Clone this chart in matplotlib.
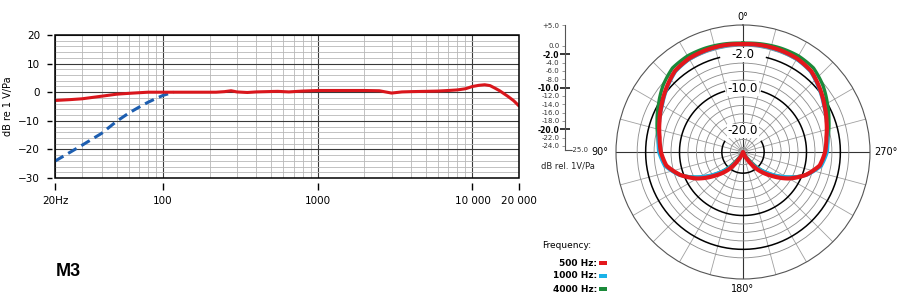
import numpy as np
import matplotlib
matplotlib.use('Agg')
import matplotlib.pyplot as plt
from matplotlib.patches import Rectangle
from matplotlib.ticker import LogLocator, MultipleLocator, NullFormatter

plt.rcParams['font.family'] = ['DejaVu Sans']

W, H = 910, 304

# frequency response (dB re 1 V/Pa)
FREQ_RESP = [20, 25, 30, 40, 50, 60, 80, 100, 130, 170, 220, 250, 275, 300, 350,
             400, 550, 650, 800, 1000, 1500, 2000, 2500, 3000, 3500, 4000, 5000,
             6000, 7000, 8000, 9000, 10000, 11000, 12000, 13000, 14000, 15000,
             17000, 18500, 20000]
DB_RESP = [-2.9, -2.6, -2.3, -1.4, -0.7, -0.4, 0.0, 0.0, 0.0, 0.0, 0.0, 0.2, 0.5,
           0.1, -0.1, 0.1, 0.3, 0.1, 0.4, 0.6, 0.6, 0.6, 0.5, -0.3, 0.1, 0.2, 0.3,
           0.4, 0.6, 0.8, 1.2, 2.0, 2.4, 2.6, 2.3, 1.4, 0.5, -1.5, -3.0, -4.8]

# low cut position (dashed)
FREQ_LOWCUT = [20, 30, 40, 50, 60, 70, 80, 90, 100, 117]
DB_LOWCUT = [-24.1, -18.5, -14.4, -10.2, -7.3, -5.2, -3.5, -2.2, -1.1, 0.0]

XTICKS = [20, 100, 1000, 10000, 20000]
XTICK_LABELS = ['20Hz', '100', '1000', '10 000', '20 000']
YTICKS = [-30, -20, -10, 0, 10, 20]

# polar patterns, dB, every 10 degrees
ANGLES = list(range(0, 361, 10))
POLAR_500 = [0.5, 0.6, 0.6, 0.5, 0.0, -1.4, -2.8, -4.0, -5.0, -5.6, -6.6, -9.2,
             -12.5, -16.3, -19.5, -23.0, -25, -25, -25, -25, -25, -23.0, -19.5,
             -16.3, -12.5, -9.2, -6.6, -5.6, -5.0, -4.0, -2.8, -1.4, 0.0, 0.5,
             0.6, 0.6, 0.5]
POLAR_1000 = [0.4, 0.4, 0.4, 0.3, -0.2, -1.6, -3.0, -4.0, -4.7, -5.1, -6.2, -9.0,
              -13.3, -17.3, -20.6, -24.0, -25, -25, -25, -25, -25, -24.0, -20.6,
              -17.3, -13.3, -9.0, -6.2, -5.1, -4.7, -4.0, -3.0, -1.6, -0.2, 0.3,
              0.4, 0.4, 0.4]
POLAR_4000 = [0.7, 0.9, 1.1, 1.2, 0.9, -0.4, -2.0, -3.4, -4.6, -5.4, -6.5, -9.2,
              -13.1, -17.1, -21.0, -25, -25, -25, -25, -25, -25, -25, -21.0,
              -17.1, -13.1, -9.2, -6.5, -5.4, -4.6, -3.4, -2.0, -0.4, 0.9, 1.2,
              1.1, 0.9, 0.7]

POLAR_SERIES = [('4000 Hz:', POLAR_4000, '#1b8a3a', 2.4),
                ('1000 Hz:', POLAR_1000, '#1ab2e8', 2.4),
                ('500 Hz:', POLAR_500, '#e3171c', 3.0)]

GRAY_RINGS = [0, -4, -6, -8, -12, -14, -16, -18, -22, -24]
BLACK_RINGS = [-2, -10, -20]
RING_GAP = {-2: 14, -10: 17, -20: 60}

SCALE_TICKS = [5, 0, -4, -6, -8, -12, -14, -16, -18, -22, -24]
SCALE_BOLD = [-2, -10, -20]


def fx(px):
    return px / W


def fy(py):
    return 1 - py / H


fig = plt.figure(figsize=(W / 100, H / 100), dpi=100)

# ---- frequency response ----
ax = fig.add_axes([fx(55), fy(178), 464 / W, 143 / H])
ax.set_xscale('log')
ax.plot(FREQ_RESP, DB_RESP, color='#d9161c', lw=2.2, zorder=4, solid_capstyle='round')
ax.plot(FREQ_LOWCUT, DB_LOWCUT, color='#1d5eb0', lw=2.2, ls=(0, (3.2, 1.8)), zorder=3)
ax.set_xlim(20, 20000)
ax.set_ylim(-30, 20)
ax.set_xticks(XTICKS)
ax.set_xticklabels(XTICK_LABELS)
ax.xaxis.set_minor_locator(LogLocator(base=10, subs=range(2, 10)))
ax.xaxis.set_minor_formatter(NullFormatter())
ax.set_yticks(YTICKS)
ax.yaxis.set_minor_locator(MultipleLocator(2))
ax.grid(which='major', color='#3a3a3a', lw=0.8)
ax.grid(which='minor', color='#b8b8b8', lw=0.6)
ax.tick_params(which='minor', length=0)
ax.tick_params(axis='x', which='major', length=5, width=1, pad=4, labelsize=7.5)
ax.tick_params(axis='y', which='major', length=3.6, width=1, pad=5, labelsize=7.5)
ax.spines['left'].set_position(('outward', 2.2))
ax.spines['bottom'].set_position(('outward', 3.6))
for s in ax.spines.values():
    s.set_visible(False)
ax.add_patch(Rectangle((0, 0), 1, 1, transform=ax.transAxes, fill=False,
                       ec='black', lw=1.1, zorder=5, clip_on=False))
ax.set_ylabel('dB re 1 V/Pa', fontsize=7)
ax.yaxis.set_label_coords((13 - 55) / 464, 0.5)

# ---- dB scale next to the polar plot ----
sax = fig.add_axes([fx(565), fy(150), 6 / W, 125 / H])
sax.set_ylim(-25, 5)
sax.set_xlim(0, 1)
sax.set_xticks([])
sax.set_yticks(SCALE_BOLD)
sax.set_yticklabels([f'{v:.1f}' for v in SCALE_BOLD], fontweight='bold', fontsize=5.5)
sax.set_yticks(SCALE_TICKS, minor=True)
sax.set_yticklabels([f'+{v:.1f}' if v > 0 else f'{v:.1f}' for v in SCALE_TICKS],
                    minor=True, fontsize=5, color='#333333')
sax.tick_params(axis='y', which='major', direction='inout', length=7, width=1.1, pad=0.5)
sax.tick_params(axis='y', which='minor', direction='out', length=2.5, width=0.6,
                color='#888888', pad=1.5)
sax.spines['top'].set_visible(False)
sax.spines['right'].set_visible(False)
sax.spines['left'].set_color('#555555')
sax.spines['bottom'].set_color('#555555')
sax.patch.set_alpha(0)
fig.text(fx(571), fy(150), '-25.0', fontsize=5, va='center', ha='left', color='#333333')
fig.text(fx(541), fy(166), 'dB rel. 1V/Pa', fontsize=6, va='center', ha='left',
         color='#222222')

# ---- polar pattern ----
pax = fig.add_axes([fx(616), fy(279), 254 / W, 254 / H], projection='polar')
pax.set_theta_zero_location('N')
pax.set_theta_direction(1)
pax.set_rlim(-25, 5)
pax.set_thetagrids(np.arange(0, 360, 15), labels=[''] * 24)
pax.set_rgrids(GRAY_RINGS, labels=[''] * len(GRAY_RINGS))
pax.xaxis.grid(True, color='#a0a0a0', lw=0.6)
pax.yaxis.grid(True, color='#8a8a8a', lw=0.6)
for i, line in enumerate(pax.xaxis.get_gridlines()):
    if i % 6 == 0:
        line.set_color('#333333')
        line.set_linewidth(0.8)
pax.spines['polar'].set_color('#555555')
pax.spines['polar'].set_linewidth(0.8)
pax.tick_params(length=0)

for lvl in BLACK_RINGS:
    gap = np.deg2rad(RING_GAP[lvl])
    th = np.linspace(gap, 2 * np.pi - gap, 300)
    pax.plot(th, np.full_like(th, lvl), color='black', lw=1.1, zorder=2)
    pax.text(0, lvl, f'{lvl:.1f}', fontsize=8.5, ha='center', va='center', zorder=2.5,
             bbox=dict(boxstyle='square,pad=0.05', fc='white', ec='none'))

theta = np.deg2rad(ANGLES)
for name, vals, color, lw in POLAR_SERIES:
    line, = pax.plot(theta, vals, color=color, lw=lw, zorder=5, solid_joinstyle='round')
    # draw each segment as an arc in polar space instead of a straight chord
    line.get_path()._interpolation_steps = 12

fig.text(fx(743), fy(17), '0°', fontsize=7, ha='center', va='center')
fig.text(fx(600), fy(152), '90°', fontsize=7, ha='center', va='center')
fig.text(fx(886), fy(152), '270°', fontsize=7, ha='center', va='center')
fig.text(fx(743), fy(289), '180°', fontsize=7, ha='center', va='center')

# ---- legend ----
fig.text(fx(542), fy(246), 'Frequency:', fontsize=6.5, ha='left', va='center')
rows = [263, 276, 289]
for (name, vals, color, lw), py in zip(POLAR_SERIES[::-1], rows):
    fig.text(fx(597), fy(py), name, fontsize=6.5, ha='right', va='center',
             fontweight='bold')
    fig.patches.append(Rectangle((fx(599), fy(py + 2)), 8 / W, 4 / H,
                                 transform=fig.transFigure, fc=color, ec='none'))

fig.text(fx(56), fy(271), 'M3', fontsize=13, fontweight='bold', ha='left', va='center',
         family=['Liberation Sans', 'DejaVu Sans'])

fig.savefig('out.png', dpi=100)
